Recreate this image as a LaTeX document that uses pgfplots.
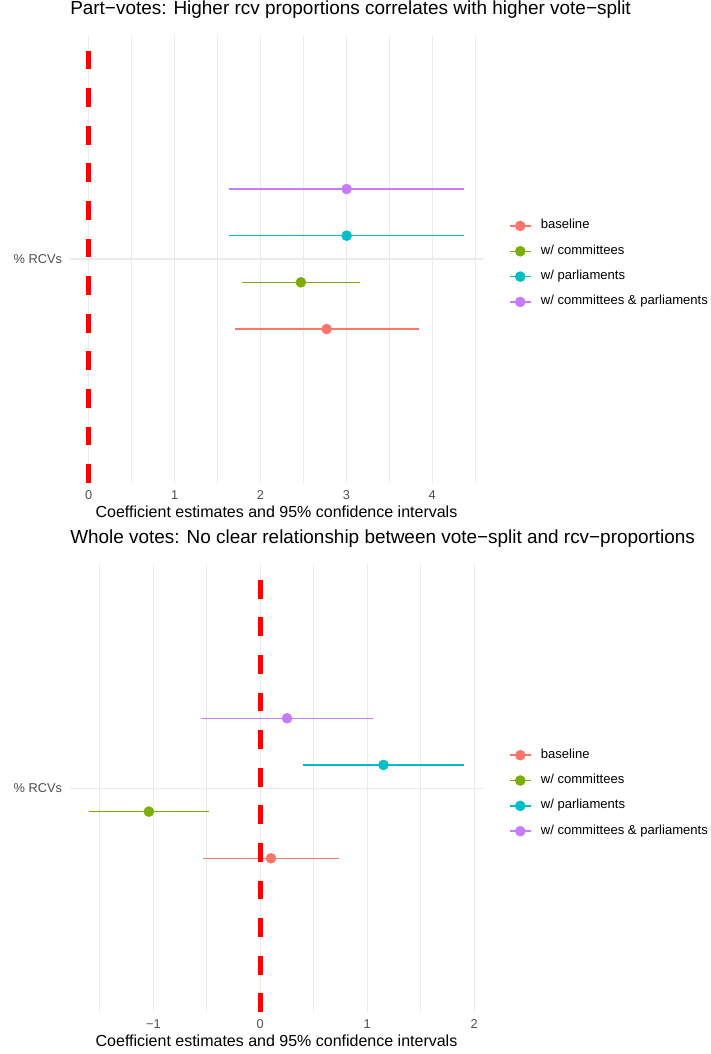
\documentclass[border=0pt]{standalone}
\usepackage{fontspec}
\setmainfont{Liberation Sans}
\usepackage{pgfplots}
\pgfplotsset{compat=1.18}

\definecolor{cbase}{HTML}{F8766D}
\definecolor{ccom}{HTML}{7CAE00}
\definecolor{cparl}{HTML}{00BFC4}
\definecolor{cboth}{HTML}{C77CFF}
\definecolor{gridgrey}{HTML}{EBEBEB}
\definecolor{grey30}{HTML}{4D4D4D}

\pgfplotsset{
  coefplot/.style={
    scale only axis, width=309.75pt, height=336pt,
    ymin=0.4, ymax=1.6, ytick={1}, yticklabels={\% RCVs},
    axis line style={draw=none}, tick style={draw=none},
    major tick length=0pt, minor tick length=0pt,
    xmajorgrids, xminorgrids, ymajorgrids,
    major grid style={gridgrey, line width=1pt},
    minor grid style={gridgrey, line width=0.7pt},
    tick label style={font=\fontsize{9.6}{11}\selectfont, text=grey30},
    xticklabel style={anchor=north, inner sep=0pt, yshift=-5.6pt},
    yticklabel style={anchor=east, inner sep=0pt, xshift=-5.8pt},
    xlabel={Coefficient estimates and 95\% confidence intervals},
    xlabel style={font=\fontsize{12}{14}\selectfont, at={(axis description cs:0.5,0)}, anchor=base, yshift=-25.9pt, inner sep=0pt},
    title style={font=\fontsize{14.2}{17}\selectfont, at={(axis description cs:0,1)}, anchor=base west, yshift=9.3pt, inner sep=0pt},
    legend cell align=left,
    legend style={at={(axis description cs:1,0.489)}, anchor=west, xshift=19.5pt,
      draw=none, fill=none, inner sep=0pt, outer sep=0pt,
      font=\fontsize{9.8}{11}\selectfont, row sep=10.7pt, column sep=0pt,
      nodes={inner sep=0pt, text height=6.4pt, text depth=1.9pt},
      /tikz/every odd column/.append style={column sep=7pt}},
  },
  ci/.style={
    color=#1, only marks, mark=*, mark size=3.75pt,
    mark options={draw=none, fill=#1},
    error bars/x dir=both, error bars/x explicit, error bars/error mark=none,
    error bars/error bar style={line width=1.15pt, color=#1, solid},
    legend image code/.code={
      \draw[line width=1.15pt, color=#1] (0pt,0pt) -- (15.75pt,0pt);
      \fill[#1] (7.875pt,0pt) circle (3.75pt);
    },
  },
  zeroline/.style={color=red, line width=3.5pt, dash pattern=on 14.1pt off 14.1pt, forget plot},
}

\begin{document}
\begin{tikzpicture}
\useasboundingbox (0pt,0pt) rectangle (533.25pt,-790.5pt);

% Part-votes models
\begin{axis}[coefplot, at={(52.5pt,-26.25pt)}, anchor=north west,
  title={Part−votes: Higher rcv proportions correlates with higher vote−split},
  xmin=-0.2186, xmax=4.5906,
  xtick={0,1,2,3,4}, xticklabels={0,1,2,3,4},
  minor xtick={0.5,1.5,2.5,3.5,4.5}]
\addplot[ci=cbase] table[x=est, y=pos, x error plus expr=\thisrow{hi}-\thisrow{est}, x error minus expr=\thisrow{est}-\thisrow{lo}, row sep=\\] {
pos est lo hi \\ 0.8125 2.770 1.697 3.851 \\};
\addlegendentry{baseline}
\addplot[ci=ccom] table[x=est, y=pos, x error plus expr=\thisrow{hi}-\thisrow{est}, x error minus expr=\thisrow{est}-\thisrow{lo}, row sep=\\] {
pos est lo hi \\ 0.9375 2.470 1.782 3.162 \\};
\addlegendentry{w/ committees}
\addplot[ci=cparl] table[x=est, y=pos, x error plus expr=\thisrow{hi}-\thisrow{est}, x error minus expr=\thisrow{est}-\thisrow{lo}, row sep=\\] {
pos est lo hi \\ 1.0625 3.003 1.634 4.372 \\};
\addlegendentry{w/ parliaments}
\addplot[ci=cboth] table[x=est, y=pos, x error plus expr=\thisrow{hi}-\thisrow{est}, x error minus expr=\thisrow{est}-\thisrow{lo}, row sep=\\] {
pos est lo hi \\ 1.1875 3.003 1.634 4.372 \\};
\addlegendentry{w/ committees \& parliaments}
\addplot[zeroline] coordinates {(0,0.4) (0,1.6)};
\end{axis}

% Whole-votes models
\begin{axis}[coefplot, at={(52.5pt,-423.2pt)}, anchor=north west,
  title={Whole votes: No clear relationship between vote−split and rcv−proportions},
  xmin=-1.7795, xmax=2.0825,
  xtick={-1,0,1,2}, xticklabels={−1,0,1,2},
  minor xtick={-1.5,-0.5,0.5,1.5}]
\addplot[ci=cbase] table[x=est, y=pos, x error plus expr=\thisrow{hi}-\thisrow{est}, x error minus expr=\thisrow{est}-\thisrow{lo}, row sep=\\] {
pos est lo hi \\ 0.8125 0.100 -0.536 0.740 \\};
\addlegendentry{baseline}
\addplot[ci=ccom] table[x=est, y=pos, x error plus expr=\thisrow{hi}-\thisrow{est}, x error minus expr=\thisrow{est}-\thisrow{lo}, row sep=\\] {
pos est lo hi \\ 0.9375 -1.042 -1.604 -0.480 \\};
\addlegendentry{w/ committees}
\addplot[ci=cparl] table[x=est, y=pos, x error plus expr=\thisrow{hi}-\thisrow{est}, x error minus expr=\thisrow{est}-\thisrow{lo}, row sep=\\] {
pos est lo hi \\ 1.0625 1.152 0.400 1.907 \\};
\addlegendentry{w/ parliaments}
\addplot[ci=cboth] table[x=est, y=pos, x error plus expr=\thisrow{hi}-\thisrow{est}, x error minus expr=\thisrow{est}-\thisrow{lo}, row sep=\\] {
pos est lo hi \\ 1.1875 0.250 -0.552 1.052 \\};
\addlegendentry{w/ committees \& parliaments}
\addplot[zeroline] coordinates {(0,0.4) (0,1.6)};
\end{axis}
\end{tikzpicture}
\end{document}
